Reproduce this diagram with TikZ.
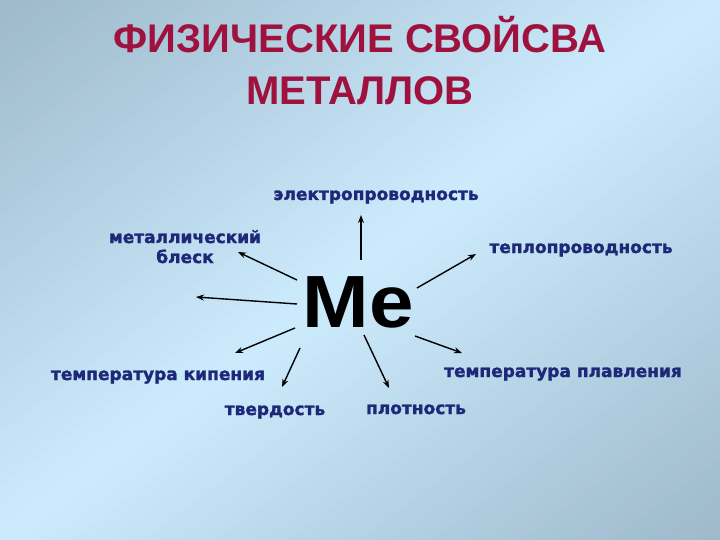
\documentclass[tikz,border=0pt]{standalone}
\usepackage{fontspec}
\setmainfont{Liberation Sans}
\newfontfamily\labelfont{DejaVu Sans}[BoldFeatures={FakeBold=1.6}]
\usetikzlibrary{arrows.meta}
\definecolor{bgdark}{HTML}{9DB9CA}
\definecolor{bglight}{HTML}{CCEBFD}
\definecolor{titlered}{HTML}{A0123E}
\definecolor{labelblue}{HTML}{1E2878}
\tikzset{
  lbl/.style={inner sep=0pt, anchor=base, text=labelblue,
    font=\labelfont\bfseries\fontsize{17}{20}\selectfont, align=center},
  arr/.style={line width=1.4pt, -{Stealth[length=8pt,width=6pt]}},
}
\begin{document}
\begin{tikzpicture}[x=1pt,y=-1pt]
\begin{scope}
\clip (0,0) rectangle (720,540);
\foreach \i in {0,...,79}{
  \pgfmathsetmacro\ua{-1+\i/40}
  \pgfmathsetmacro\ub{-1+(\i+1)/40+0.004}
  \pgfmathsetmacro\p{abs(\ua+\ub-0.004)/2*100}
  \fill[bgdark!\p!bglight]
    ({360-720+\ua*360},{270+540+\ua*270}) --
    ({360+720+\ua*360},{270-540+\ua*270}) --
    ({360+720+\ub*360},{270-540+\ub*270}) --
    ({360-720+\ub*360},{270+540+\ub*270}) -- cycle;
}
\end{scope}
\useasboundingbox (0,0) rectangle (720,540);
\node[inner sep=0pt, anchor=base, text=titlered, align=center,
  font=\bfseries\fontsize{40}{52}\selectfont] (title) at (360,105)
  {ФИЗИЧЕСКИЕ СВОЙСВА\\МЕТАЛЛОВ};
\node[inner sep=0pt, anchor=base, font=\bfseries\fontsize{74}{80}\selectfont] (me) at (358,327) {\scalebox{1.08}[1]{Me}};
\node[lbl] (elec) at (376,200) {электропроводность};
\node[lbl] (shine) at (185,263) {металлический\\блеск};
\node[lbl] (heat) at (581,253) {теплопроводность};
\node[lbl] (boil) at (158,380) {температура кипения};
\node[lbl] (melt) at (563,377) {температура плавления};
\node[lbl] (hard) at (275,415) {твердость};
\node[lbl] (dens) at (416,414) {плотность};
% arrow end points
\coordinate (s1) at (361,260); \coordinate (e1) at (361,215);
\coordinate (s2) at (297,280); \coordinate (e2) at (238,252);
\coordinate (s3) at (297,304); \coordinate (e3) at (196,297);
\coordinate (s4) at (417,288); \coordinate (e4) at (476,254);
\coordinate (s5) at (415,336); \coordinate (e5) at (462,353);
\coordinate (s6) at (364,335); \coordinate (e6) at (389,388);
\coordinate (s7) at (295,328); \coordinate (e7) at (235,353);
\coordinate (s8) at (300,348); \coordinate (e8) at (282,387);
\draw[arr] (s1) -- (e1);
\draw[arr] (s2) -- (e2);
\draw[arr] (s3) -- (e3);
\draw[arr] (s4) -- (e4);
\draw[arr] (s5) -- (e5);
\draw[arr] (s6) -- (e6);
\draw[arr] (s7) -- (e7);
\draw[arr] (s8) -- (e8);
\end{tikzpicture}
\end{document}
